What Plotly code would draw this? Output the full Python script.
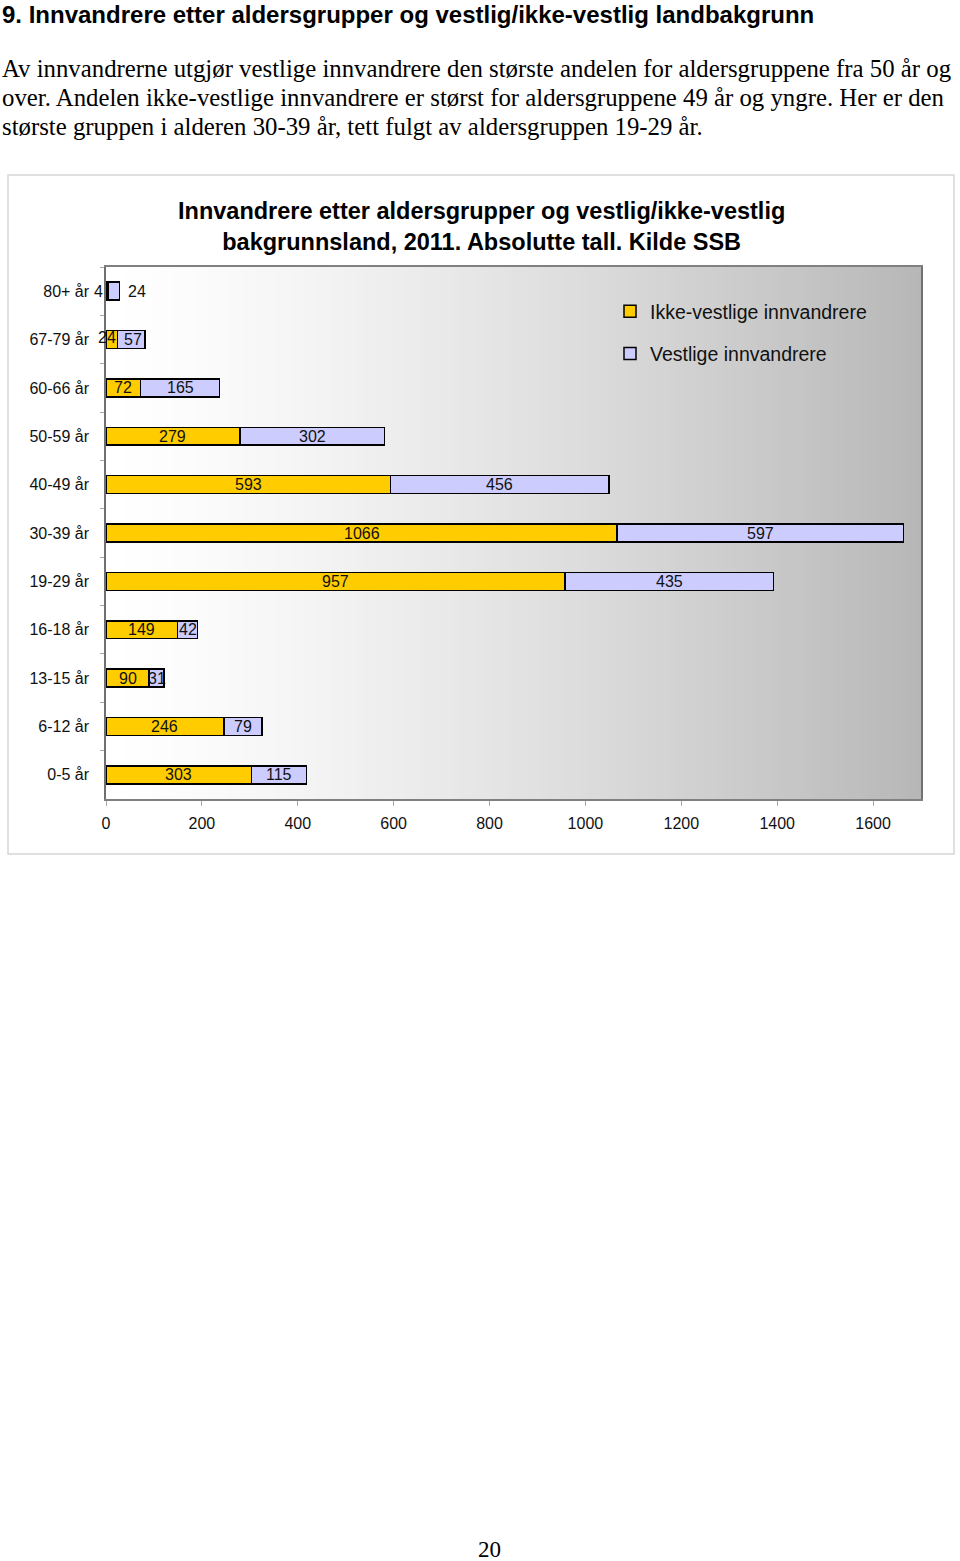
import plotly.graph_objects as go

# ---- data ----
categories = ["80+ år", "67-79 år", "60-66 år", "50-59 år", "40-49 år", "30-39 år",
              "19-29 år", "16-18 år", "13-15 år", "6-12 år", "0-5 år"]
ikke_vestlige = [4, 24, 72, 279, 593, 1066, 957, 149, 90, 246, 303]
vestlige = [24, 57, 165, 302, 456, 597, 435, 42, 31, 79, 115]
series_names = ["Ikke-vestlige innvandrere", "Vestlige innvandrere"]
x_ticks = [0, 200, 400, 600, 800, 1000, 1200, 1400, 1600]

W, H = 960, 1561
FONT = "Liberation Sans, Arial, sans-serif"
SERIF = "Liberation Serif, Times New Roman, serif"

def px(x):
    return x / W

def py(y):
    return 1 - y / H

fig = go.Figure()
fig.add_trace(go.Bar(
    y=categories, x=ikke_vestlige, orientation="h", name=series_names[0],
    marker=dict(color="#FFCC00", line=dict(color="#000000", width=1.5)),
    width=0.37, legendgroup="a", hoverinfo="x+y"))
fig.add_trace(go.Bar(
    y=categories, x=vestlige, orientation="h", name=series_names[1],
    marker=dict(color="#CCCCFF", line=dict(color="#000000", width=1.5)),
    width=0.37, legendgroup="b", hoverinfo="x+y"))

# data labels, centred in each segment (small first-row segments nudged like the original)
shift_a = {0: -8, 1: -5}
shift_b = {0: 23, 1: 2}
annotations = []
for i, cat in enumerate(categories):
    a, b = ikke_vestlige[i], vestlige[i]
    annotations.append(dict(x=a / 2, y=cat, xref="x", yref="y", text=str(a), showarrow=False,
                            xshift=shift_a.get(i, 0), yshift=(2 if i == 1 else 0),
                            font=dict(family=FONT, size=16, color="#111111")))
    annotations.append(dict(x=a + b / 2, y=cat, xref="x", yref="y", text=str(b), showarrow=False,
                            xshift=shift_b.get(i, 0),
                            font=dict(family=FONT, size=16, color="#111111")))

# page texts
annotations.append(dict(x=0, y=py(14), xref="paper", yref="paper", xanchor="left", yanchor="middle",
                        text="<b>9. Innvandrere etter aldersgrupper og vestlig/ikke-vestlig landbakgrunn</b>",
                        showarrow=False, font=dict(family=FONT, size=24, color="#000000")))
para = ["Av innvandrerne utgjør vestlige innvandrere den største andelen for aldersgruppene fra 50 år og",
        "over. Andelen ikke-vestlige innvandrere er størst for aldersgruppene 49 år og yngre. Her er den",
        "største gruppen i alderen 30-39 år, tett fulgt av aldersgruppen 19-29 år."]
for k, line in enumerate(para):
    annotations.append(dict(x=0, y=py(69 + 28.5 * k), xref="paper", yref="paper", xanchor="left",
                            yanchor="middle", text=line, showarrow=False,
                            font=dict(family=SERIF, size=24.8, color="#000000")))
annotations.append(dict(x=px(481), y=py(227), xref="paper", yref="paper", xanchor="center",
                        yanchor="middle",
                        text="<b>Innvandrere etter aldersgrupper og vestlig/ikke-vestlig</b><br>"
                             "<b>bakgrunnsland, 2011. Absolutte tall. Kilde SSB</b>",
                        showarrow=False, font=dict(family=FONT, size=23.5, color="#000000")))
annotations.append(dict(x=px(490), y=py(1549), xref="paper", yref="paper", xanchor="center",
                        yanchor="middle", text="20", showarrow=False,
                        font=dict(family=SERIF, size=23, color="#000000")))

# background gradient strips (white -> grey) inside plot area
shapes = []
N = 120
for k in range(N):
    f = (k + 0.5) / N
    c = int(round(255 - 72 * f ** 1.35))
    shapes.append(dict(type="rect", xref="x domain", yref="y domain", x0=k / N, x1=(k + 1) / N + 0.002,
                       y0=0, y1=1, fillcolor=f"rgb({c},{c},{c})", line=dict(width=0), layer="below"))
# outer chart frame
shapes.append(dict(type="rect", xref="paper", yref="paper", x0=px(8), x1=px(954), y0=py(854), y1=py(175),
                   line=dict(color="#d6d6d6", width=1.5), fillcolor="rgba(0,0,0,0)", layer="below"))

fig.update_layout(
    width=W, height=H, margin=dict(l=0, r=0, t=0, b=0, autoexpand=False),
    paper_bgcolor="white", plot_bgcolor="rgba(0,0,0,0)",
    barmode="stack", bargap=0.63,
    showlegend=True,
    legend=dict(x=px(610), y=py(292), xanchor="left", yanchor="top", bgcolor="rgba(0,0,0,0)",
                font=dict(family=FONT, size=19.5, color="#111111"), traceorder="grouped",
                tracegroupgap=14, itemwidth=30),
    xaxis=dict(domain=[px(106), px(921)], range=[0, 1700], tickvals=x_ticks,
               ticktext=[str(t) for t in x_ticks], ticks="outside", ticklen=5, tickcolor="#a8a8a8",
               showgrid=False, zeroline=False, showline=True, linecolor="#808080", linewidth=1.5,
               mirror=True, ticklabelstandoff=4,
               tickfont=dict(family=FONT, size=16, color="#111111"), fixedrange=True),
    yaxis=dict(domain=[py(799), py(267)], categoryorder="array", categoryarray=categories,
               autorange="reversed", ticks="outside", tickson="boundaries", ticklen=4,
               tickcolor="#a8a8a8", showgrid=False, zeroline=False, showline=True,
               linecolor="#707070", linewidth=1.5, mirror=True, ticklabelstandoff=12,
               tickfont=dict(family=FONT, size=16, color="#111111"), fixedrange=True),
    annotations=annotations, shapes=shapes,
    font=dict(family=FONT),
)

fig.write_html("out.html")
